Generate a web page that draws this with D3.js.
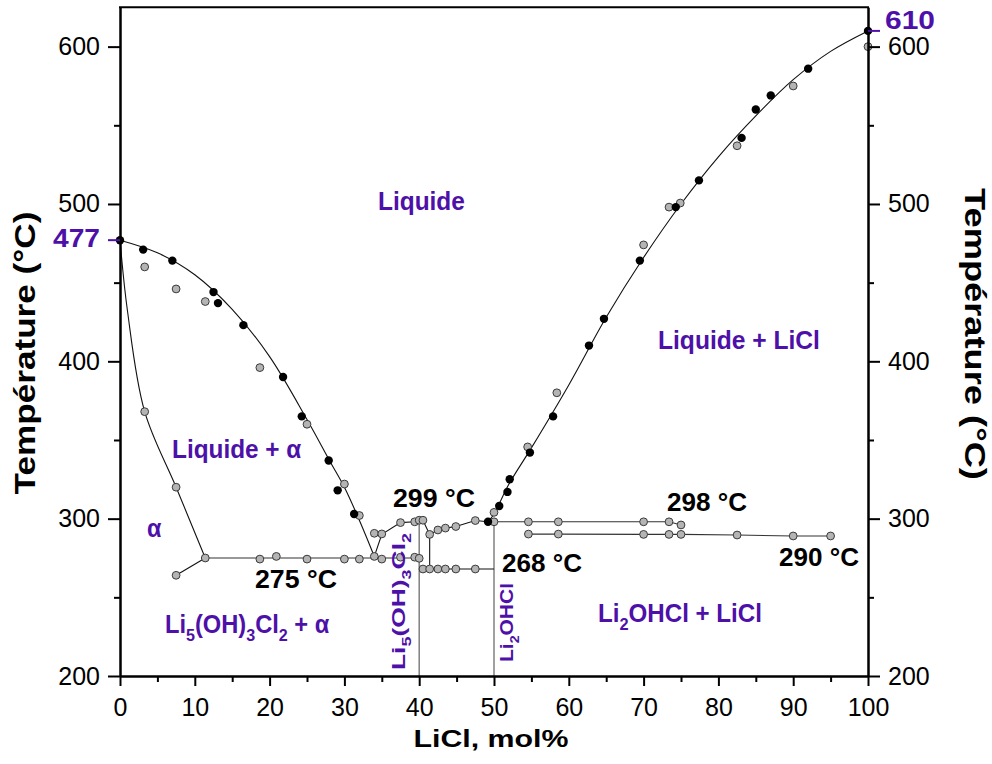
<!DOCTYPE html>
<html><head><meta charset="utf-8">
<script src="https://cdn.jsdelivr.net/npm/d3@7"></script>
<style>body{margin:0;background:#fff} text{font-family:"Liberation Sans",Arial,sans-serif}</style>
</head><body>
<svg id="c" width="992" height="764"></svg>
<script>
// ---------- data ----------
const xMajorTicks = [0,10,20,30,40,50,60,70,80,90,100];
const xMinorTicks = [5,15,25,35,45,55,65,75,85,95];
const yMajorTicks = [200,300,400,500,600];
const yMinorTicks = [250,350,450,550];
const specialLeft = 477, specialRight = 610;

// black points (filled)
const blackPts = [[0,477],[3.1,471],[7,464],[12.5,444],[13.1,437],[16.5,423],[21.8,390],[24.3,365],[27.9,337],[29.1,318],[31.3,303],
  [49.2,298],[50.7,308],[51.8,317],[52.1,325],[54.8,342],[57.9,365],[62.7,410],[64.7,427],[69.5,464],[74.3,498],[77.4,515],
  [83.1,542],[85,560],[87,569],[92,586],[100,610]];
// grey points
const grayLiquidusLeft = [[3.3,460],[7.5,446],[11.4,438],[18.7,396],[25,360],[30,322],[32,302]];
const graySolvus = [[3.3,368],[7.5,320],[11.4,275],[7.5,264]];
const gray275 = [[18.7,274.3],[20.9,276],[25,274.3],[30,274.3],[32,274.3],[34,276],[35,274.3],[37.5,275.5],[39.4,275.5],[40,274.8]];
const grayMid = [[34,290.7],[35,290.3],[37.5,297.5],[39.4,298],[40,299],[40.5,299],[41.4,290],[42.5,292.8],[43.5,294],[44.9,295],[47.5,298.8],[50,298],[50,304]];
const gray268 = [[40.5,268],[41.4,268],[42.5,268],[43.5,268],[44.9,268],[47.5,268]];
const gray298 = [[54.6,298],[58.6,298],[70,298],[73.4,298],[75,296]];
const gray290 = [[54.6,290.2],[58.6,290.2],[70,290],[73.4,290],[75,290],[82.5,289.6],[90,289],[95,289]];
const grayLiquidusRight = [[54.5,345.6],[58.4,380],[70,474],[73.4,498],[74.9,500.6],[82.5,537],[90,575],[100,600]];

// curve nodes
const leftLiquidus = [[0,477],[5,469],[10,455],[15,433],[20,403],[25,363],[28,337],[30,320],[32,299],[34,276]];
const alphaSolvus = [[0,477],[1.0,432],[3.3,368],[7.5,320],[11.4,275]];
const alphaLow = [[7.5,264],[11.4,275]];
const eut275 = [[11.4,275],[40,275]];
const midLiquidus = [[34,276],[35,290],[37.5,297.5],[39.4,298],[40,299],[40.5,299],[41.4,290],[42.5,292.8],[43.5,294],[44.9,295],[47.5,298.8],[49.2,298],[50,298]];
const vert414 = [[41.4,290],[41.4,268]];
const line268 = [[40,268],[50,268]];
const vert40 = [[40,299],[40,200]];
const vert50 = [[50,298],[50,200]];
const rightLiquidus = [[49.2,298],[50,303],[52,322],[55,345],[60,385],[65,428],[70,466],[75,500],[80,530],[85,556],[90,579],[95,597],[100,610]];
const line298 = [[50,298],[54.6,298],[58.6,298],[70,298],[73.4,298],[75,296]];
const line290 = [[54.6,290.2],[58.6,290.2],[70,290],[73.4,290],[75,290],[82.5,289.6],[90,289],[95,289]];

// ---------- chart ----------
const purple = "#4d10a8";
const svg = d3.select("#c");
const x = d3.scaleLinear().domain([0,100]).range([120,868]);
const y = d3.scaleLinear().domain([200,625]).range([676,7.3]);

const lin = d3.line().x(d=>x(d[0])).y(d=>y(d[1]));
const crv = d3.line().x(d=>x(d[0])).y(d=>y(d[1])).curve(d3.curveCatmullRom.alpha(0.5));

function path(data, gen, color="#111", w=1.1){
  svg.append("path").attr("d",gen(data)).attr("fill","none").attr("stroke",color).attr("stroke-width",w);
}
path(vert40, lin, "#808080", 1.5);
path(vert50, lin, "#808080", 1.5);
path(leftLiquidus, crv);
path(alphaSolvus, crv);
path(alphaLow, lin);
path(eut275, lin, "#333");
path(midLiquidus, lin);
path(vert414, lin);
path(line268, lin);
path(rightLiquidus, crv);
path(line298, lin, "#333");
path(line290, lin, "#333");

const grays = [].concat(grayLiquidusLeft, graySolvus, gray275, grayMid, gray268, gray298, gray290, grayLiquidusRight);
svg.append("g").selectAll("circle").data(grays).join("circle")
  .attr("cx",d=>x(d[0])).attr("cy",d=>y(d[1])).attr("r",3.9)
  .attr("fill","#b4b4b4").attr("stroke","#3a3a3a").attr("stroke-width",1);
svg.append("g").selectAll("circle").data(blackPts).join("circle")
  .attr("cx",d=>x(d[0])).attr("cy",d=>y(d[1])).attr("r",4.2).attr("fill","#000");

// ---------- axes ----------
function styleAxis(g){
  g.select(".domain").attr("stroke-width",2).attr("stroke","#000");
  g.selectAll(".tick line").attr("stroke-width",2).attr("stroke","#000");
  g.selectAll(".tick text").attr("font-size",25).attr("fill","#000").style("font-family",'"Liberation Sans",Arial,sans-serif');
}
const gB = svg.append("g").attr("transform",`translate(0,${y(200)})`)
  .call(d3.axisBottom(x).tickValues(xMajorTicks).tickSize(10).tickPadding(12).tickSizeOuter(0).tickFormat(d3.format("d")));
styleAxis(gB);
const gBm = svg.append("g").attr("transform",`translate(0,${y(200)})`)
  .call(d3.axisBottom(x).tickValues(xMinorTicks).tickSize(6).tickSizeOuter(0).tickFormat(""));
styleAxis(gBm);
const gL = svg.append("g").attr("transform",`translate(${x(0)},0)`)
  .call(d3.axisLeft(y).tickValues(yMajorTicks).tickSize(12).tickPadding(8).tickSizeOuter(0).tickFormat(d3.format("d")));
styleAxis(gL);
const gLm = svg.append("g").attr("transform",`translate(${x(0)},0)`)
  .call(d3.axisLeft(y).tickValues(yMinorTicks).tickSize(6).tickSizeOuter(0).tickFormat(""));
styleAxis(gLm);
const gR = svg.append("g").attr("transform",`translate(${x(100)},0)`)
  .call(d3.axisRight(y).tickValues(yMajorTicks).tickSize(12).tickPadding(8).tickSizeOuter(0).tickFormat(d3.format("d")));
styleAxis(gR);
const gRm = svg.append("g").attr("transform",`translate(${x(100)},0)`)
  .call(d3.axisRight(y).tickValues(yMinorTicks).tickSize(6).tickSizeOuter(0).tickFormat(""));
styleAxis(gRm);
svg.append("line").attr("x1",x(0)-1).attr("x2",x(100)+1).attr("y1",y(625)).attr("y2",y(625))
  .attr("stroke","#000").attr("stroke-width",2);

// special purple ticks
svg.append("line").attr("x1",x(0)-12).attr("x2",x(0)).attr("y1",y(specialLeft)).attr("y2",y(specialLeft)).attr("stroke",purple).attr("stroke-width",2);
svg.append("line").attr("x1",x(100)).attr("x2",x(100)+12).attr("y1",y(specialRight)).attr("y2",y(specialRight)).attr("stroke",purple).attr("stroke-width",2);

// ---------- labels ----------
function label(parts, x0, y0, opt={}){
  const {rot=0,size=25,color=purple,width=null,anchor="start",sub=0.68,shift=0.3} = opt;
  const g = svg.append("g").attr("transform",`translate(${x0},${y0}) rotate(${rot})`);
  const t = g.append("text").attr("font-size",size).attr("font-weight","bold").attr("fill",color).attr("text-anchor",anchor);
  let down = false;
  parts.forEach(p=>{
    if (typeof p === "string"){
      const ts = t.append("tspan").text(p);
      if (down){ ts.attr("dy",-size*shift); down=false; }
    } else {
      t.append("tspan").attr("font-size",size*sub).attr("dy",size*shift).text(p.s);
      down = true;
    }
  });
  if (width){
    const w = t.node().getBBox().width;
    t.attr("transform",`scale(${width/w},1)`);
  }
  return t;
}
label([String(specialLeft)], 100, y(specialLeft)+7, {anchor:"end", width:47});
label([String(specialRight)], 885, y(specialRight)-2, {width:50});

label(["Liquide"], 378, 210, {width:87});
label(["Liquide + LiCl"], 658, 349, {width:162});
label(["Liquide + α"], 172, 458, {width:130});
label(["α"], 147, 537, {width:15});
label(["Li",{s:"5"},"(OH)",{s:"3"},"Cl",{s:"2"}," + α"], 165, 633, {width:165});
label(["Li",{s:"2"},"OHCl + LiCl"], 598, 622, {width:164});
label(["Li",{s:"5"},"(OH)",{s:"3"},"Cl",{s:"2"}], 405, 670, {rot:-90,size:19,width:137});
label(["Li",{s:"2"},"OHCl"], 513, 662, {rot:-90,size:19,width:79});

const black = "#000";
label(["299 °C"], 393, 507, {color:black, width:82});
label(["275 °C"], 255, 588, {color:black, width:82});
label(["268 °C"], 502, 572, {color:black, width:80});
label(["298 °C"], 667, 511, {color:black, width:80});
label(["290 °C"], 779, 566, {color:black, width:80});

label(["LiCl, mol%"], 491, 747, {color:black, size:24, anchor:"middle", width:155});
label(["Température (°C)"], 35, 353, {color:black, size:29, anchor:"middle", rot:-90, width:283});
label(["Température (°C)"], 965, 334, {color:black, size:29, anchor:"middle", rot:90, width:292});
</script>
</body></html>
